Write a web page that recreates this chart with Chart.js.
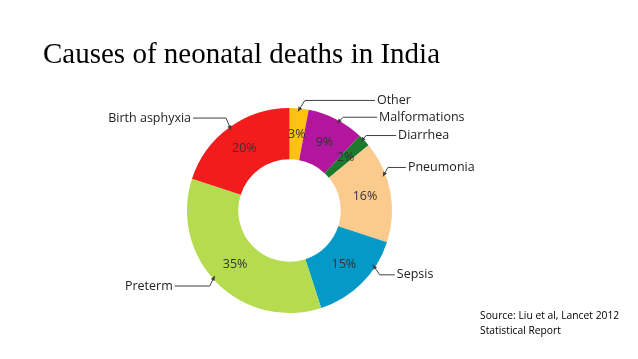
<!DOCTYPE html>
<html><head><meta charset="utf-8">
<script src="https://cdn.jsdelivr.net/npm/chart.js@4/dist/chart.umd.min.js"></script>
<style>html,body{margin:0;padding:0;background:#fff;overflow:hidden}canvas{display:block}</style>
</head><body>
<canvas id="c" width="638" height="359"></canvas>
<script>
const categories = ['Other','Malformations','Diarrhea','Pneumonia','Sepsis','Preterm','Birth asphyxia'];
const values = [3, 9, 2, 16, 15, 35, 20];
const valueLabels = ['3%','9%','2%','16%','15%','35%','20%'];
const colors = ['#FFC20E','#B2169F','#1B7A2D','#FBCB8E','#0499C6','#B4DC4E','#F31C1C'];
const titleText = 'Causes of neonatal deaths in India';
const sourceLines = ['Source: Liu et al, Lancet 2012', 'Statistical Report'];

// leader-line styling (relative to each slice)
const anchorFrac = [0.45, 0.55, 0.4, 0.34, 0.28, 0.53, 0.5];
const elbow = [[7,-11],[6,-6],[5,-6],[5,-9],[7,10],[-5,10],[-5,-12]];
const leaderLen = [70, 34, 30, 18, 15, 35, 33];

const labelFont = '12.5px "Open Sans", sans-serif';

const overlay = {
  id: 'overlay',
  afterDraw(chart) {
    const ctx = chart.ctx;
    const meta = chart.getDatasetMeta(0);
    ctx.save();
    // title
    ctx.fillStyle = '#000';
    ctx.font = '29px "Liberation Serif", "Times New Roman", serif';
    ctx.textBaseline = 'alphabetic';
    ctx.textAlign = 'left';
    ctx.fillText(titleText, 43, 63);
    // percent labels
    ctx.font = labelFont;
    ctx.fillStyle = '#333';
    ctx.textAlign = 'center';
    ctx.textBaseline = 'middle';
    meta.data.forEach((arc, i) => {
      const p = arc.tooltipPosition();
      ctx.fillText(valueLabels[i], p.x, p.y);
    });
    // leader lines + category labels
    ctx.strokeStyle = '#404040';
    ctx.fillStyle = '#404040';
    ctx.lineWidth = 1;
    meta.data.forEach((arc, i) => {
      const a = arc.startAngle + (arc.endAngle - arc.startAngle) * anchorFrac[i];
      const r = arc.outerRadius * 0.97;
      const ax = arc.x + r * Math.cos(a), ay = arc.y + r * Math.sin(a);
      const ex = ax + elbow[i][0], ey = ay + elbow[i][1];
      const dir = elbow[i][0] > 0 ? 1 : -1;
      const hx = ex + dir * leaderLen[i];
      ctx.beginPath();
      ctx.moveTo(ax, ay); ctx.lineTo(ex, ey); ctx.lineTo(hx, ey);
      ctx.stroke();
      // arrowhead
      const ang = Math.atan2(ay - ey, ax - ex);
      ctx.beginPath();
      ctx.moveTo(ax, ay);
      ctx.lineTo(ax - 5 * Math.cos(ang - 0.45), ay - 5 * Math.sin(ang - 0.45));
      ctx.lineTo(ax - 5 * Math.cos(ang + 0.45), ay - 5 * Math.sin(ang + 0.45));
      ctx.closePath();
      ctx.fill();
      ctx.save();
      ctx.fillStyle = '#222';
      ctx.font = labelFont;
      ctx.textBaseline = 'middle';
      ctx.textAlign = dir > 0 ? 'left' : 'right';
      ctx.fillText(categories[i], hx + dir * 2, ey);
      ctx.restore();
    });
    // source
    ctx.fillStyle = '#000';
    ctx.font = '10.3px "Open Sans", sans-serif';
    ctx.textAlign = 'left';
    ctx.textBaseline = 'middle';
    sourceLines.forEach((s, k) => ctx.fillText(s, 480, 316 + k * 15));
    ctx.restore();
  }
};

new Chart(document.getElementById('c'), {
  type: 'doughnut',
  data: {
    labels: categories,
    datasets: [{
      data: values,
      backgroundColor: colors,
      borderWidth: 0,
      hoverOffset: 0,
      offset: 0,
      spacing: 0
    }]
  },
  options: {
    responsive: false,
    animation: false,
    cutout: '50%',
    layout: { padding: { left: 187, right: 246, top: 108, bottom: 46 } },
    plugins: { legend: { display: false }, tooltip: { enabled: false } },
    events: []
  },
  plugins: [overlay]
});
</script>
</body></html>
